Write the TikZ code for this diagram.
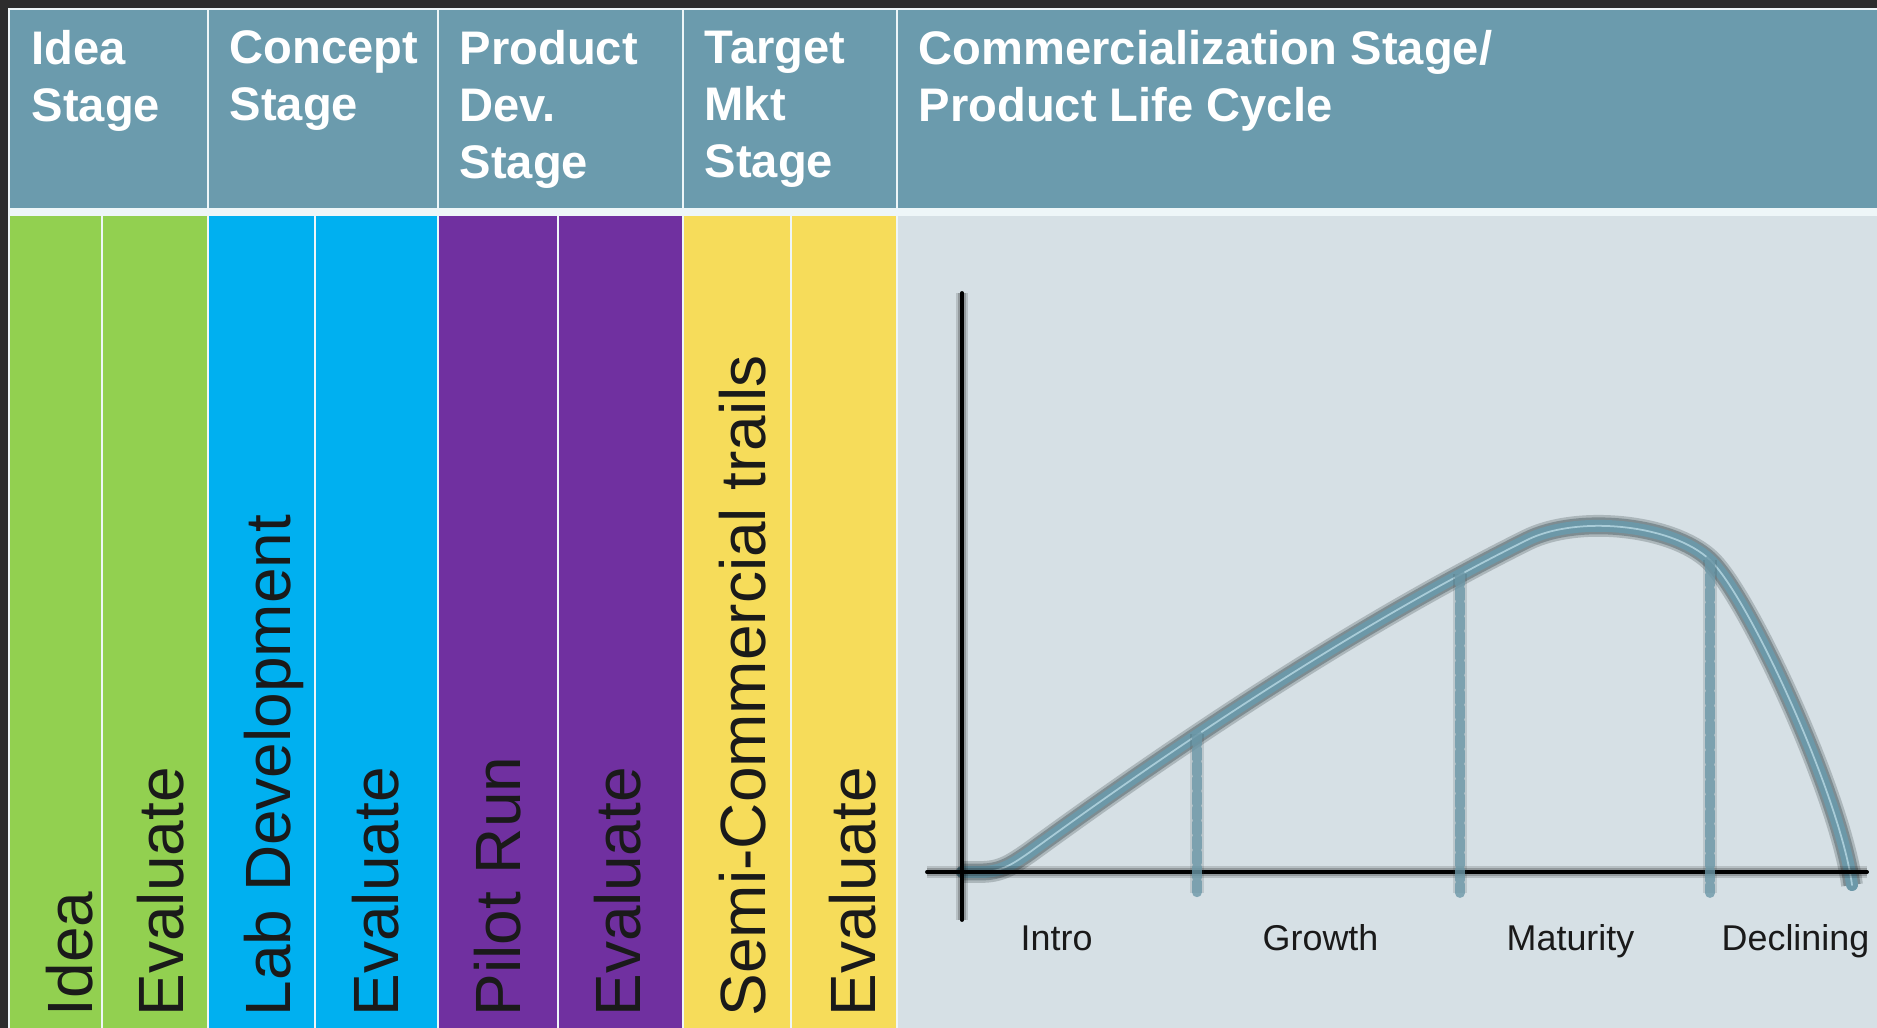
\documentclass[tikz,border=0pt]{standalone}
\usepackage{fontspec}
\setmainfont{Liberation Sans}

\definecolor{framegray}{HTML}{2D2D2D}
\definecolor{rulewhite}{HTML}{EEF6F8}
\definecolor{headblue}{HTML}{6B9BAD}
\definecolor{ideagreen}{HTML}{92D050}
\definecolor{conceptblue}{HTML}{00B0F0}
\definecolor{productpurple}{HTML}{7030A0}
\definecolor{targetyellow}{HTML}{F6DC5A}
\definecolor{plcgray}{HTML}{D6E0E5}
\definecolor{curveblue}{HTML}{6C98A8}
\definecolor{curvelight}{HTML}{A9CCD8}
\definecolor{labelblack}{HTML}{1A1A1A}

\tikzset{
  stagehead/.style={anchor=north west, inner sep=0pt, align=left, text=white,
    font=\bfseries\fontsize{13.4}{16.2}\selectfont},
  steplabel/.style={anchor=base west, rotate=90, inner sep=0pt, text=labelblack,
    font=\fontsize{18.2}{20}\selectfont},
  phaselabel/.style={anchor=base west, inner sep=0pt, text=labelblack,
    font=\fontsize{10.2}{12}\selectfont},
  sepline/.style={draw=rulewhite, line width=0.7pt},
  axisline/.style={draw=black, line width=1.1pt, line cap=round,
    preaction={draw=black, line width=3.4pt, draw opacity=.14},
    preaction={draw=black, line width=2.3pt, draw opacity=.2}},
  plccurve/.style={draw=curveblue, line width=3.4pt, line cap=round, line join=round,
    preaction={draw=black!75!curveblue, line width=6.2pt, draw opacity=.22},
    preaction={draw=black!60!curveblue, line width=4.8pt, draw opacity=.35},
    postaction={draw=curvelight, line width=0.5pt}},
  dropline/.style={draw=curveblue, line width=2.8pt, line cap=round, draw opacity=.8,
    dash pattern=on 3pt off 1.2pt,
    preaction={draw=black!60!curveblue, line width=3.8pt, draw opacity=.15}},
}

\begin{document}
\begin{tikzpicture}[x=0.01cm, y=-0.01cm]
\useasboundingbox (0,0) rectangle (1877,1028);

% dark frame, white rules and the header band
\fill[framegray] (0,0) rectangle (1877,1028);
\fill[rulewhite] (8,8) rectangle (1877,1028);
\fill[headblue] (10,10) rectangle (1877,208);

% coloured columns below the header
\foreach \l/\r/\c in {10/208/ideagreen, 208/438/conceptblue, 438/683/productpurple,
                      683/897/targetyellow, 897/1877/plcgray}
  \fill[\c] (\l,216) rectangle (\r,1028);

% white rules between the columns
\foreach \x in {208,438,683,897}
  \draw[sepline] (\x,10) -- (\x,208);
\foreach \x in {102,208,315,438,558,683,791,897}
  \draw[sepline] (\x,216) -- (\x,1028);

% stage headings
\node[stagehead] (ideahead) at (31,30) {Idea\\Stage};
\node[stagehead] (concepthead) at (229,30) {Concept\\Stage};
\node[stagehead] (producthead) at (459,30) {Product\\Dev.\\Stage};
\node[stagehead] (targethead) at (704,30) {Target\\Mkt\\Stage};
\node[stagehead] (plchead) at (918,30) {Commercialization Stage/\\Product Life Cycle};

% upright step labels, one per column
\foreach \x/\t/\n in {92/Idea/idea, 183/Evaluate/evalidea, 290/Lab Development/lab,
                      398/Evaluate/evalconcept, 520/Pilot Run/pilot, 640/Evaluate/evalproduct,
                      765/Semi-Commercial trails/semi, 875/Evaluate/evaltarget}
  \node[steplabel] (\n) at (\x,1017) {\t};

% points of the life cycle
\coordinate (origin) at (962,872);
\coordinate (ytop) at (962,293);
\coordinate (ybot) at (962,920);
\coordinate (xleft) at (927,872);
\coordinate (xright) at (1867,872);
\coordinate (growth) at (1197,734);
\coordinate (maturity) at (1460,574);
\coordinate (decline) at (1710,560);

% the curve
\draw[plccurve] (origin) -- (980,872) .. controls (1000,872) and (1010,866) .. (1030,852)
  .. controls (1200,728) and (1372,617) .. (1527,540)
  .. controls (1577,515) and (1672,524) .. (decline)
  .. controls (1748,596) and (1840,795) .. (1852,885);

% axes
\draw[axisline] (ytop) -- (ybot);
\draw[axisline] (xleft) -- (xright);

% drop lines from the curve to the axis
\foreach \p in {growth, maturity, decline}
  \draw[dropline] (\p) -- (\p |- 0,893);

% phase names
\node[phaselabel] (intro) at (1020,950) {Intro};
\node[phaselabel] (growthlabel) at (1262,950) {Growth};
\node[phaselabel] (maturitylabel) at (1506,950) {Maturity};
\node[phaselabel] (declinelabel) at (1721,950) {Declining};

\end{tikzpicture}
\end{document}
